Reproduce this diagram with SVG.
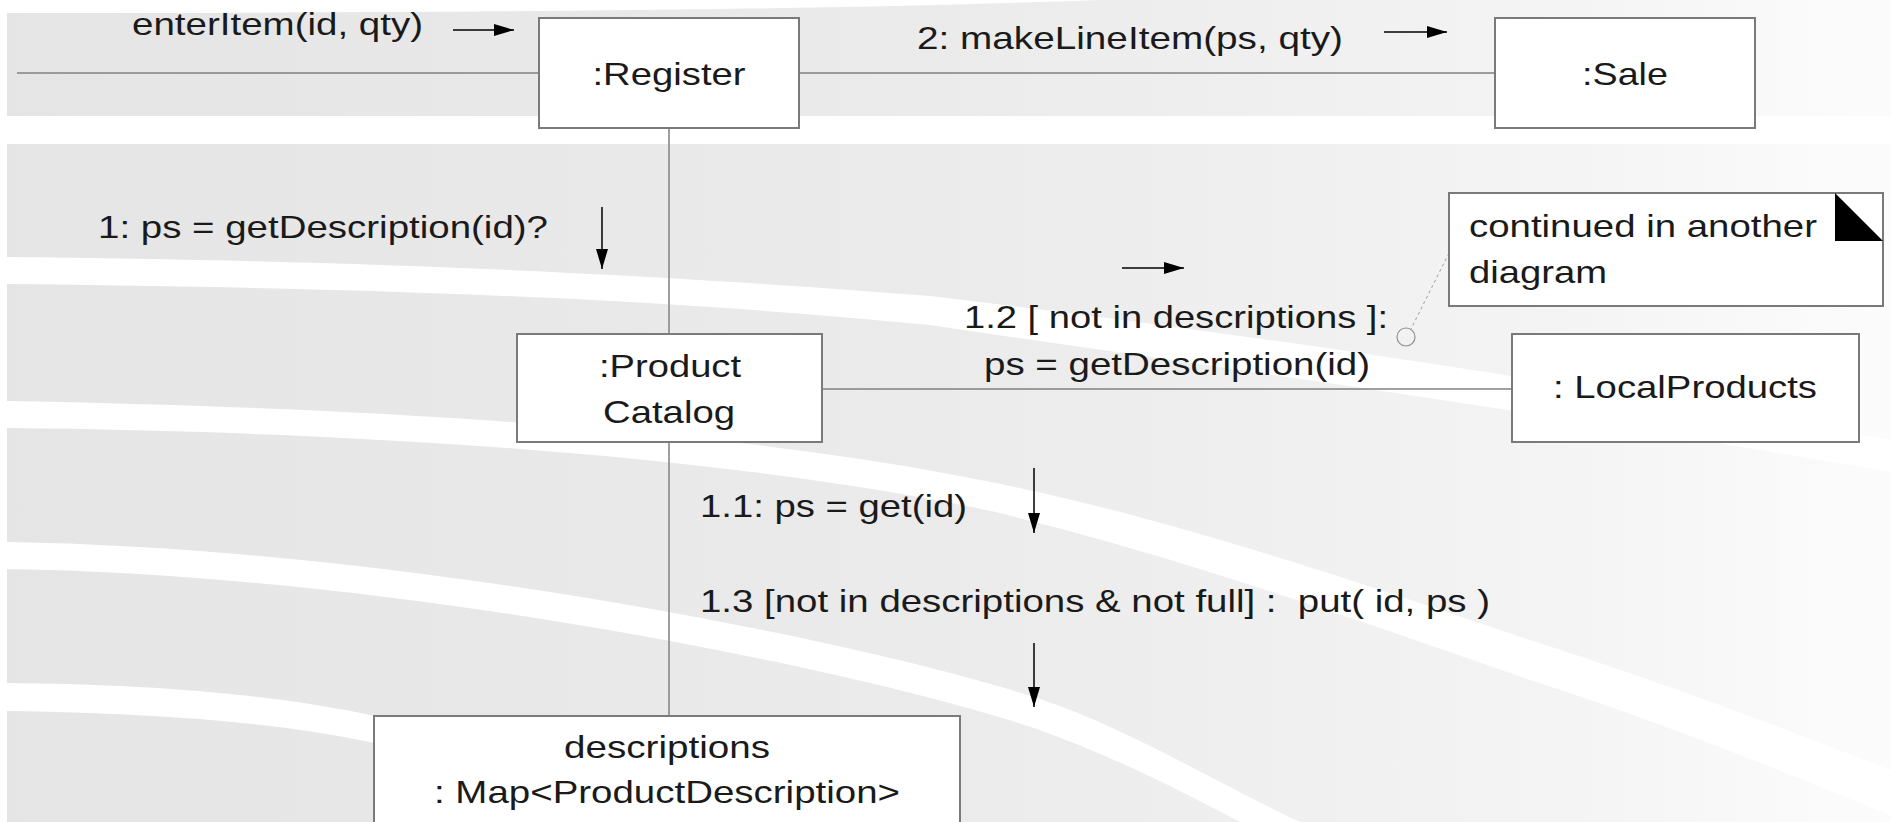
<svg xmlns="http://www.w3.org/2000/svg" width="1891" height="822" viewBox="0 0 1891 822">
<defs>
<linearGradient id="bg" x1="0" y1="0" x2="1" y2="0">
<stop offset="0" stop-color="#e5e5e5"/>
<stop offset="0.5" stop-color="#ebebeb"/>
<stop offset="0.8" stop-color="#f3f3f3"/>
<stop offset="1" stop-color="#fcfcfc"/>
</linearGradient>
<marker id="ah" viewBox="0 0 20 12" refX="20" refY="6" markerWidth="20" markerHeight="12" markerUnits="userSpaceOnUse" orient="auto">
<path d="M0,0 L20,6 L0,12 Z" fill="#000"/>
</marker>
<style>
.box{fill:#fff;stroke:#7a7a7a;stroke-width:2}
.link{stroke:#808080;stroke-width:1.5;fill:none}
.msg{stroke:#000;stroke-width:1.5;fill:none;marker-end:url(#ah)}
.stripe{fill:#fff;stroke:none}
text{font-family:"Liberation Sans",Arial,sans-serif;font-size:31.5px;fill:#1a1a1a}
.c{text-anchor:middle}
</style>
</defs>
<g id="background">
<rect x="0" y="0" width="1891" height="822" fill="#fff"/>
<rect x="7" y="0" width="1884" height="822" fill="url(#bg)"/>
<path class="stripe" d="M7,0 L7,13 C400,13 800,11 1100,0 Z"/>
<rect class="stripe" x="7" y="116" width="1884" height="28"/>
<path class="stripe" d="M7,257 C400,261 673,276 930,296 C1200,328 1512,372 1891,440 L1891,472 C1512,407 1200,365 930,325 C673,300 400,288 7,284 Z"/>
<path class="stripe" d="M7,401 C400,408 750,432 991,482 C1150,515 1279,555 1530,640 C1700,695 1800,735 1891,770 L1891,815 C1800,780 1700,735 1530,680 C1279,592 1150,550 991,511 C750,460 400,432 7,428 Z"/>
<path class="stripe" d="M7,542 C400,548 860,640 1040,699 C1130,729 1220,785 1300,822 L1240,822 C1180,790 1110,755 1034,728 C860,670 400,575 7,569 Z"/>
<path class="stripe" d="M7,683 C150,684 280,695 374,716 C450,740 560,790 620,822 L560,822 C500,790 430,760 374,743 C280,722 150,713 7,711 Z"/>
</g>
<g id="connectors">
<line class="link" x1="17" y1="73" x2="539" y2="73"/>
<line class="link" x1="799" y1="73" x2="1495" y2="73"/>
<line class="link" x1="669" y1="128" x2="669" y2="334"/>
<line class="link" x1="822" y1="389" x2="1512" y2="389"/>
<line class="link" x1="669" y1="442" x2="669" y2="716"/>
<line class="msg" x1="453" y1="30" x2="514" y2="30"/>
<line class="msg" x1="1384" y1="32" x2="1447" y2="32"/>
<line class="msg" x1="602" y1="207" x2="602" y2="269"/>
<line class="msg" x1="1122" y1="268" x2="1184" y2="268"/>
<line class="msg" x1="1034" y1="468" x2="1034" y2="533"/>
<line class="msg" x1="1034" y1="643" x2="1034" y2="707"/>
<line x1="1449" y1="253" x2="1411" y2="329" stroke="#a0a0a0" stroke-width="1" stroke-dasharray="3 3"/>
<circle cx="1406" cy="337" r="9" fill="none" stroke="#909090" stroke-width="1.2"/>
<text x="132" y="35" textLength="291" lengthAdjust="spacingAndGlyphs">enterItem(id, qty)</text>
<text x="917" y="49" textLength="426" lengthAdjust="spacingAndGlyphs">2: makeLineItem(ps, qty)</text>
<text x="98" y="238" textLength="450" lengthAdjust="spacingAndGlyphs">1: ps = getDescription(id)?</text>
<text x="964" y="328" textLength="424" lengthAdjust="spacingAndGlyphs">1.2 [ not in descriptions ]:</text>
<text x="984" y="375" textLength="386" lengthAdjust="spacingAndGlyphs">ps = getDescription(id)</text>
<text x="700" y="517" textLength="267" lengthAdjust="spacingAndGlyphs">1.1: ps = get(id)</text>
<text x="700" y="612" textLength="790" lengthAdjust="spacingAndGlyphs" xml:space="preserve">1.3 [not in descriptions &amp; not full] :  put( id, ps )</text>
</g>
<g id="register">
<rect class="box" x="539" y="18" width="260" height="110"/>
<text class="c" x="669" y="85" textLength="153" lengthAdjust="spacingAndGlyphs">:Register</text>
</g>
<g id="sale">
<rect class="box" x="1495" y="18" width="260" height="110"/>
<text class="c" x="1625" y="85" textLength="86" lengthAdjust="spacingAndGlyphs">:Sale</text>
</g>
<g id="productCatalog">
<rect class="box" x="517" y="334" width="305" height="108"/>
<text class="c" x="670" y="377" textLength="142" lengthAdjust="spacingAndGlyphs">:Product</text>
<text class="c" x="669" y="423" textLength="132" lengthAdjust="spacingAndGlyphs">Catalog</text>
</g>
<g id="localProducts">
<rect class="box" x="1512" y="334" width="347" height="108"/>
<text class="c" x="1685" y="398" textLength="264" lengthAdjust="spacingAndGlyphs">: LocalProducts</text>
</g>
<g id="descriptions">
<rect class="box" x="374" y="716" width="586" height="130"/>
<text class="c" x="667" y="758" textLength="206" lengthAdjust="spacingAndGlyphs">descriptions</text>
<text class="c" x="667" y="803" textLength="466" lengthAdjust="spacingAndGlyphs">: Map&lt;ProductDescription&gt;</text>
</g>
<g id="note">
<rect class="box" x="1449" y="193" width="434" height="113"/>
<path d="M1835,193 L1883,241 L1835,241 Z" fill="#000"/>
<text x="1469" y="237" textLength="348" lengthAdjust="spacingAndGlyphs">continued in another</text>
<text x="1469" y="283" textLength="138" lengthAdjust="spacingAndGlyphs">diagram</text>
</g>
</svg>
